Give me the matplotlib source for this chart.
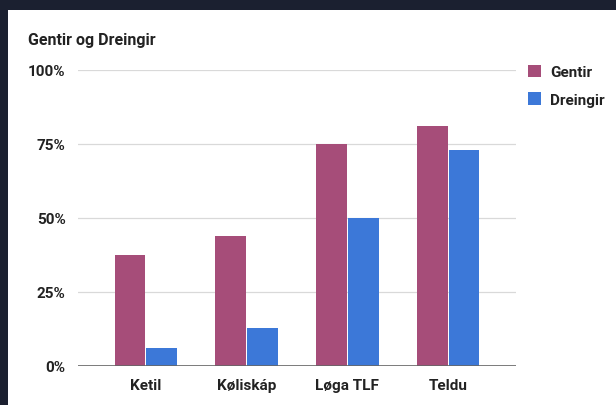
import matplotlib
matplotlib.use("Agg")
import matplotlib.pyplot as plt
from matplotlib.patches import Rectangle
import numpy as np

plt.rcParams['font.family'] = ['Roboto', 'DejaVu Sans']

# Data
categories = ['Ketil', 'Køliskáp', 'Løga TLF', 'Teldu']
gentir = [37.5, 44, 75, 81]
dreingir = [6, 13, 50, 73]
series_names = ['Gentir', 'Dreingir']
yticks = [0, 25, 50, 75, 100]
ytick_labels = ['0%', '25%', '50%', '75%', '100%']

GENTIR_COLOR = '#a64d79'
DREINGIR_COLOR = '#3c78d8'
TEXT_COLOR = '#222222'

W, H = 616, 406
fig = plt.figure(figsize=(W / 100, H / 100), dpi=100)
fig.patch.set_facecolor('#1b2030')
fig.patches.append(Rectangle((8 / W, 0), 1 - 8 / W, 1 - 11 / H,
                             transform=fig.transFigure, facecolor='white',
                             edgecolor='none', zorder=-10))

ax = fig.add_axes([78 / W, 39 / H, 438 / W, 296 / H])
ax.set_facecolor('white')
ax.set_zorder(1)

x = np.arange(len(categories))
bw = 0.305
ax.bar(x - bw / 2 - 0.005, gentir, bw, color=GENTIR_COLOR, label=series_names[0], zorder=3)
ax.bar(x + bw / 2 + 0.005, dreingir, bw, color=DREINGIR_COLOR, label=series_names[1], zorder=3)

ax.set_xlim(-0.673, 3.673)
ax.set_ylim(0, 100)
ax.set_yticks(yticks)
ax.set_yticklabels(ytick_labels)
ax.set_xticks(x)
ax.set_xticklabels(categories)
ax.grid(axis='y', color='#d9d9d9', linewidth=0.9, zorder=0)
ax.axhline(0, color='#666666', linewidth=1.2, zorder=4)
for s in ax.spines.values():
    s.set_visible(False)
ax.tick_params(length=0, labelsize=11, labelcolor=TEXT_COLOR)
ax.tick_params(axis='y', pad=9)
ax.tick_params(axis='x', pad=9)
for lab in ax.get_xticklabels() + ax.get_yticklabels():
    lab.set_fontweight('bold')

fig.text(28 / W, 1 - 40 / H, 'Gentir og Dreingir', fontsize=11.5, fontweight='bold',
         color=TEXT_COLOR, va='center', ha='left')

leg = ax.legend(loc='upper left', bbox_to_anchor=(0.995, 1.065), frameon=False,
                handlelength=0.9, handleheight=0.9, handletextpad=0.6,
                labelspacing=0.85, prop={'size': 11, 'weight': 'bold'})
for t in leg.get_texts():
    t.set_color(TEXT_COLOR)

fig.savefig('out.png', dpi=100, facecolor=fig.get_facecolor())
